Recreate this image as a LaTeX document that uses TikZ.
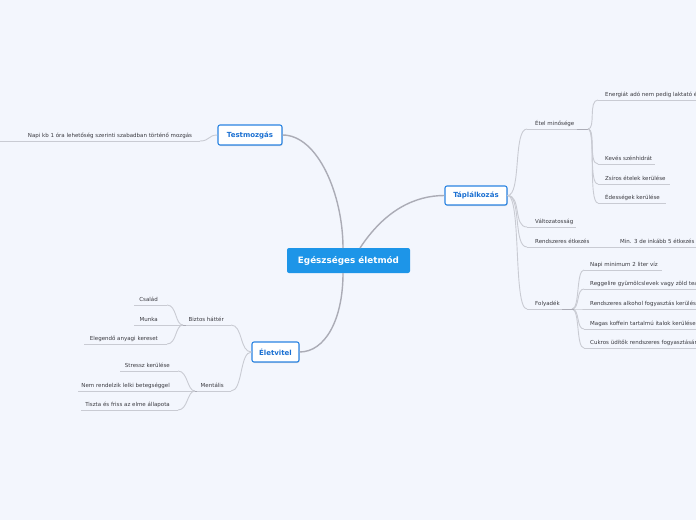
\documentclass[tikz,border=0pt]{standalone}
\usepackage{fontspec}
\setmainfont{DejaVu Sans}
\usetikzlibrary{shadows}
\definecolor{bg}{HTML}{F3F6FD}
\definecolor{central}{HTML}{1D95E8}
\definecolor{boxblue}{HTML}{2A84E2}
\definecolor{boxtext}{HTML}{1B70D2}
\definecolor{maincon}{HTML}{ABACB6}
\definecolor{subcon}{HTML}{C9CBD3}
\definecolor{leaftext}{HTML}{3A3A40}
\tikzset{
  centralbox/.style={fill=central, draw=none, rounded corners=2pt, text=white,
    font=\fontsize{8.8}{10}\selectfont\bfseries, minimum width=123pt, minimum height=25pt, inner sep=0pt},
  mainbox/.style={fill=white, draw=boxblue, line width=1.1pt, rounded corners=2pt, text=boxtext,
    font=\fontsize{7}{8}\selectfont\bfseries, inner sep=0pt,
    drop shadow={opacity=0.25, shadow xshift=0.6pt, shadow yshift=-1pt}},
  leaf/.style={text=leaftext, font=\fontsize{5.5}{6.5}\selectfont, inner sep=0pt},
  maincn/.style={draw=maincon, line width=1.4pt},
  subcn/.style={draw=subcon, line width=0.9pt},
  uline/.style={draw=subcon, line width=0.9pt},
}
% \leafitem{name}{x1}{x2}{y}{textx}{anchor}{text}
\newcommand{\leafitem}[7]{%
  \coordinate (#1-a) at (#2,#4);
  \coordinate (#1-b) at (#3,#4);
  \draw[uline] (#1-a) -- (#1-b);
  \node[leaf, anchor=base #6] (#1) at (#5,#4-3.6) {#7};
}
\begin{document}
\begin{tikzpicture}[x=1pt,y=-1pt]
\useasboundingbox[fill=bg] (0,0) rectangle (696,520);
\clip (0,0) rectangle (696,520);

% central and main boxes
\node[centralbox] (c) at (348.5,260.5) {Egészséges életmód};
\node[mainbox, minimum width=64pt, minimum height=20pt] (tm) at (250,135) {Testmozgás};
\node[mainbox, minimum width=62pt, minimum height=19pt] (tp) at (476,195.5) {Táplálkozás};
\node[mainbox, minimum width=47pt, minimum height=20pt] (ev) at (275.5,352) {Életvitel};

\coordinate (c-tl) at (343,248);
\coordinate (c-tr) at (360,248);
\coordinate (c-b) at (343,273);
\draw[maincn] (c-tl) .. controls (343,195) and (318,135) .. (tm.east);
\draw[maincn] (c-tr) .. controls (385,210) and (415,195.5) .. (tp.west);
\draw[maincn] (c-b) .. controls (343,320) and (325,352) .. (ev.east);

% Testmozgás
\leafitem{mozg}{0}{200}{141}{110}{}{Napi kb 1 óra lehetőség szerinti szabadban történő mozgás}
\draw[subcn] (mozg-b) .. controls (210,141) and (208,135) .. (tm.west);

% Táplálkozás
\leafitem{etel}{527}{588}{129}{535}{west}{Étel minősége}
\leafitem{valt}{527}{576}{227}{535}{west}{Változatosság}
\leafitem{rend}{527}{600}{247}{535}{west}{Rendszeres étkezés}
\leafitem{foly}{527}{572}{309}{535}{west}{Folyadék}
\foreach \n in {etel,valt,rend,foly}{
  \draw[subcn] (tp.east) .. controls +(14,0) and +(-14,0) .. (\n-a);
}
\draw[uline, draw=maincon] (577,129) -- (588,129);

\leafitem{ener}{598}{700}{100}{605}{west}{Energiát adó nem pedig laktató ételek}
\leafitem{keve}{598}{655}{164}{605}{west}{Kevés szénhidrát}
\leafitem{zsir}{598}{670}{184}{605}{west}{Zsíros ételek kerülése}
\leafitem{edes}{598}{666}{203}{605}{west}{Édességek kerülése}
\foreach \n in {ener,keve,zsir,edes}{
  \draw[subcn] (etel-b) .. controls +(8,0) and +(-10,0) .. (\n-a);
}

\leafitem{min}{605}{700}{247}{620}{west}{Min. 3 de inkább 5 étkezés}
\draw[subcn] (rend-b) -- (min-a);

\leafitem{napi}{584}{662}{270}{590}{west}{Napi minimum 2 liter víz}
\leafitem{regg}{584}{700}{289}{590}{west}{Reggelire gyümölcslevek vagy zöld tea}
\leafitem{alko}{584}{700}{309}{590}{west}{Rendszeres alkohol fogyasztás kerülése}
\leafitem{koff}{584}{700}{329}{590}{west}{Magas koffein tartalmú italok kerülése}
\leafitem{cukr}{584}{700}{348}{590}{west}{Cukros üdítők rendszeres fogyasztásának kerülése}
\foreach \n in {napi,regg,alko,koff,cukr}{
  \draw[subcn] (foly-b) .. controls +(8,0) and +(-8,0) .. (\n-a);
}
\draw[uline, draw=maincon] (562,309) -- (574,309);

% Életvitel
\leafitem{bizt}{183}{231}{325}{224}{east}{Biztos háttér}
\leafitem{ment}{195}{231}{391}{224}{east}{Mentális}
\foreach \n in {bizt,ment}{
  \draw[subcn] (\n-b) .. controls +(12,0) and +(-12,0) .. (ev.west);
}
\draw[uline, draw=maincon] (175,325) -- (186,325);
\draw[uline, draw=maincon] (186,391) -- (197,391);

\leafitem{csal}{134}{167}{305}{158}{east}{Család}
\leafitem{munk}{134}{183}{325}{158}{east}{Munka}
\leafitem{eleg}{84}{167}{344}{158}{east}{Elegendő anyagi kereset}
\foreach \n in {csal,eleg}{
  \draw[subcn] (\n-b) .. controls +(10,0) and +(-8,0) .. (bizt-a);
}

\leafitem{stre}{120}{178}{371}{170}{east}{Stressz kerülése}
\leafitem{nemr}{78}{195}{391}{170}{east}{Nem rendelzik lelki betegséggel}
\leafitem{tisz}{81}{178}{410}{170}{east}{Tiszta és friss az elme állapota}
\foreach \n in {stre,tisz}{
  \draw[subcn] (\n-b) .. controls +(10,0) and +(-8,0) .. (ment-a);
}
\end{tikzpicture}
\end{document}
